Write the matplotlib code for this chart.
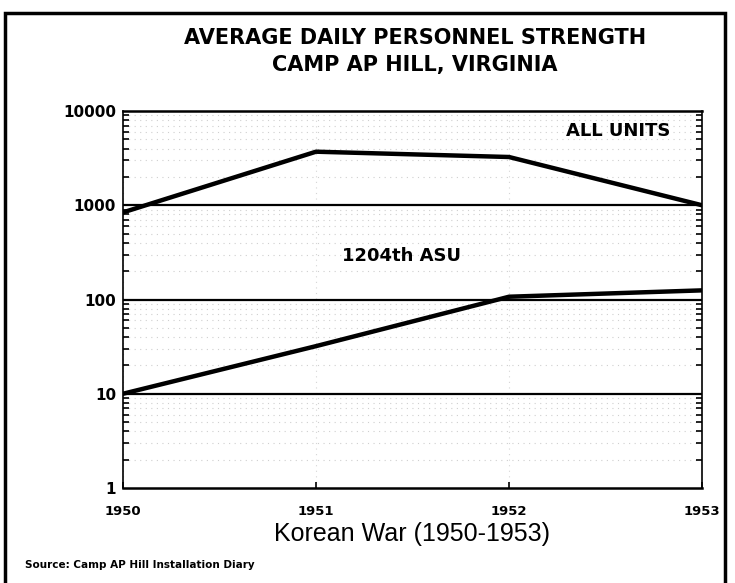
import matplotlib.pyplot as plt
from matplotlib.patches import Rectangle
from matplotlib.ticker import LogLocator, NullFormatter, FixedLocator

# Values
years = [1950, 1951, 1952, 1953]
all_units = [840, 3700, 3250, 1000]
asu_1204 = [10, 32, 107, 125]
y_ticks = [1, 10, 100, 1000, 10000]
y_labels = ["1", "10", "100", "1000", "10000"]

plt.rcParams['font.family'] = ['DejaVu Sans']

W, H = 735, 583
fig = plt.figure(figsize=(W / 100, H / 100), dpi=100)
ax = fig.add_axes([123 / W, 1 - 488 / H, (702 - 123) / W, (488 - 111) / H])

ax.plot(years, all_units, color='black', linewidth=3.2, solid_joinstyle='round')
ax.plot(years, asu_1204, color='black', linewidth=3.2, solid_joinstyle='round')

ax.set_yscale('log')
ax.set_ylim(1, 10000)
ax.set_xlim(1950, 1953)

ax.yaxis.set_major_locator(FixedLocator(y_ticks))
ax.set_yticklabels(y_labels, fontweight='bold', fontsize=11)
ax.yaxis.set_minor_locator(LogLocator(base=10, subs=range(2, 10)))
ax.yaxis.set_minor_formatter(NullFormatter())
ax.tick_params(axis='y', which='minor', direction='in', right=True, length=4, width=1.2)
ax.tick_params(axis='y', which='major', direction='in', right=True, length=0, pad=5)

ax.set_xticks(years)
ax.set_xticklabels([str(y) for y in years], fontweight='bold', fontsize=9.5)
ax.tick_params(axis='x', direction='in', length=4, width=1.2, pad=12)

# heavy rules at the decades, faint dotted lines in between
for v in [10, 100, 1000]:
    ax.axhline(v, color='black', linewidth=1.6)
ax.grid(which='minor', axis='y', color='#cfcfcf', linestyle=(0, (1, 4)), linewidth=0.8)
ax.grid(which='major', axis='x', color='#d5d5d5', linestyle=(0, (1, 4)), linewidth=0.8)

for side in ['top', 'bottom']:
    ax.spines[side].set_linewidth(1.8)
for side in ['left', 'right']:
    ax.spines[side].set_linewidth(1.2)

# series labels, placed in axes fractions
ax.text((618 - 123) / (702 - 123), (488 - 131) / (488 - 111), "ALL UNITS", transform=ax.transAxes,
        ha='center', va='center', fontweight='bold', fontsize=13)
ax.text((401 - 123) / (702 - 123), (488 - 256) / (488 - 111), "1204th ASU", transform=ax.transAxes,
        ha='center', va='center', fontweight='bold', fontsize=13)

ax.set_xlabel("Korean War (1950-1953)", fontsize=18, family='Liberation Sans', labelpad=3)

fig.text(415 / W, 1 - 38 / H, "AVERAGE DAILY PERSONNEL STRENGTH", ha='center', va='center',
         fontsize=15, fontweight='bold')
fig.text(415 / W, 1 - 65 / H, "CAMP AP HILL, VIRGINIA", ha='center', va='center',
         fontsize=15, fontweight='bold')
fig.text(25 / W, 1 - 565 / H, "Source: Camp AP Hill Installation Diary", ha='left', va='center',
         fontsize=7.5, fontweight='bold')

# page frame around the figure
fig.patches.append(Rectangle((5 / W, -0.02), (725 - 5) / W, 1.02 - 13 / H,
                             transform=fig.transFigure, fill=False, edgecolor='black',
                             linewidth=2.5))

fig.savefig("out.png", dpi=100)
